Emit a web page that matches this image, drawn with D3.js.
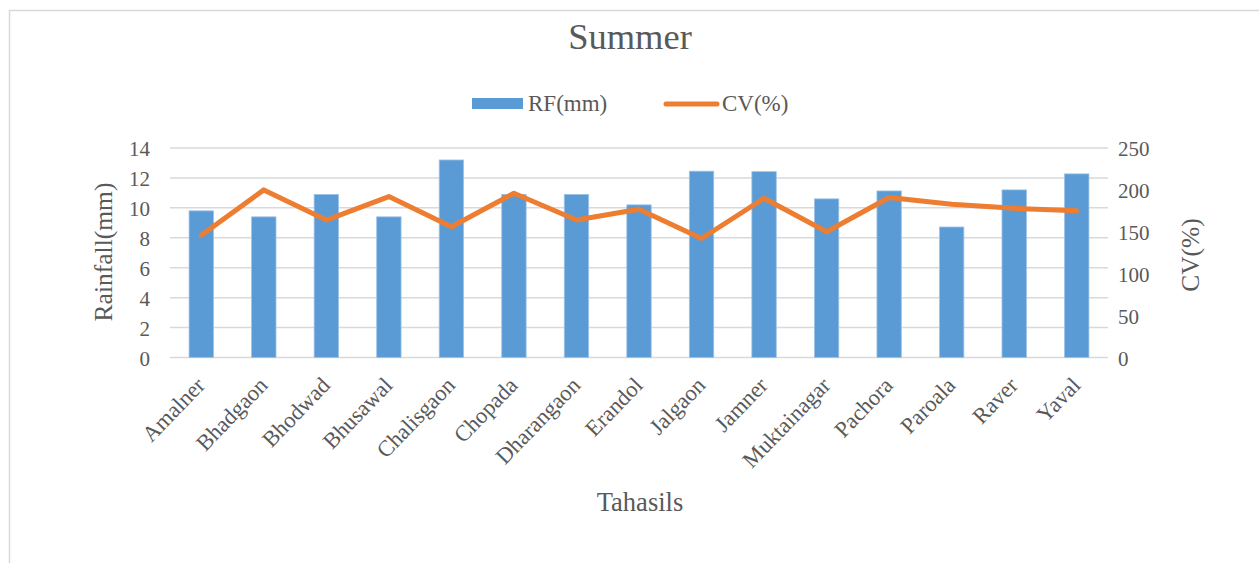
<!DOCTYPE html>
<html><head><meta charset="utf-8">
<script src="https://cdn.jsdelivr.net/npm/d3@7/dist/d3.min.js"></script>
<style>body{margin:0;background:#fff}svg{display:block}text{font-family:"Liberation Serif","Times New Roman",serif;fill:#595959}</style>
</head><body><svg id="c" width="1259" height="563"></svg>
<script>
const categories = ["Amalner","Bhadgaon","Bhodwad","Bhusawal","Chalisgaon","Chopada","Dharangaon","Erandol","Jalgaon","Jamner","Muktainagar","Pachora","Paroala","Raver","Yaval"];
const rfValues = [9.8,9.4,10.9,9.4,13.2,10.9,10.9,10.2,12.45,12.42,10.6,11.13,8.72,11.2,12.27];
const cvValues = [146,200,164,192,156,196,164,177,142,190,150,191,183,178,175];
const leftTicks = [0,2,4,6,8,10,12,14];
const rightTicks = [0,50,100,150,200,250];

const svg = d3.select("#c");
const m = {l:170, r:1108, t:148, b:357.5};

svg.append("rect").attr("x",9.5).attr("y",10.5).attr("width",1300).attr("height",600)
  .attr("fill","none").attr("stroke","#d9d9d9").attr("stroke-width",1.5);

const x = d3.scaleBand().domain(categories).range([m.l,m.r]).paddingInner(0.61).paddingOuter(0.305);
const y = d3.scaleLinear().domain([0,14]).range([m.b,m.t]);
const y2 = d3.scaleLinear().domain([0,250]).range([m.b,m.t]);

svg.append("g").selectAll("line").data(leftTicks).join("line")
  .attr("x1",m.l).attr("x2",m.r).attr("y1",d=>y(d)).attr("y2",d=>y(d))
  .attr("stroke","#d9d9d9").attr("stroke-width",1.5);

const la = svg.append("g").attr("transform",`translate(${m.l-20},0)`)
  .call(d3.axisLeft(y).tickValues(leftTicks).tickSize(0).tickPadding(0));
la.select(".domain").remove();
la.selectAll("text").style("font-size","21px").attr("fill","#595959").attr("dy","0.36em");

const ra = svg.append("g").attr("transform",`translate(${m.r+10},0)`)
  .call(d3.axisRight(y2).tickValues(rightTicks).tickSize(0).tickPadding(0));
ra.select(".domain").remove();
ra.selectAll("text").style("font-size","21px").attr("fill","#595959").attr("dy","0.36em");

svg.append("g").selectAll("rect").data(categories).join("rect")
  .attr("x",d=>x(d)).attr("width",x.bandwidth())
  .attr("y",(d,i)=>y(rfValues[i])).attr("height",(d,i)=>y(0)-y(rfValues[i]))
  .attr("fill","#5b9bd5").attr("stroke","#9dc3e6").attr("stroke-width",0.8);

const line = d3.line().x((d,i)=>x(categories[i])+x.bandwidth()/2).y(d=>y2(d));
svg.append("path").datum(cvValues).attr("d",line).attr("fill","none")
  .attr("stroke","#ed7d31").attr("stroke-width",5).attr("stroke-linejoin","round").attr("stroke-linecap","round");

svg.append("g").selectAll("text").data(categories).join("text")
  .attr("transform",d=>`translate(${x(d)+x.bandwidth()/2+5},${m.b+29}) rotate(-46)`)
  .attr("text-anchor","end").style("font-size","22.5px").text(d=>d);

svg.append("text").attr("x",630).attr("y",49).attr("text-anchor","middle").style("font-size","36.5px").text("Summer");

svg.append("rect").attr("x",472).attr("y",98).attr("width",51).attr("height",11).attr("fill","#5b9bd5");
svg.append("text").attr("x",528).attr("y",111).style("font-size","23px").text("RF(mm)");
svg.append("line").attr("x1",666).attr("x2",717).attr("y1",104).attr("y2",104)
  .attr("stroke","#ed7d31").attr("stroke-width",5).attr("stroke-linecap","round");
svg.append("text").attr("x",722).attr("y",111).style("font-size","23px").text("CV(%)");

svg.append("text").attr("transform","translate(112,252) rotate(-90)").attr("text-anchor","middle")
  .style("font-size","25.5px").text("Rainfall(mm)");
svg.append("text").attr("transform","translate(1199,255) rotate(-90)").attr("text-anchor","middle")
  .style("font-size","25.5px").text("CV(%)");
svg.append("text").attr("x",640).attr("y",511).attr("text-anchor","middle").style("font-size","26.5px").text("Tahasils");
</script></body></html>
